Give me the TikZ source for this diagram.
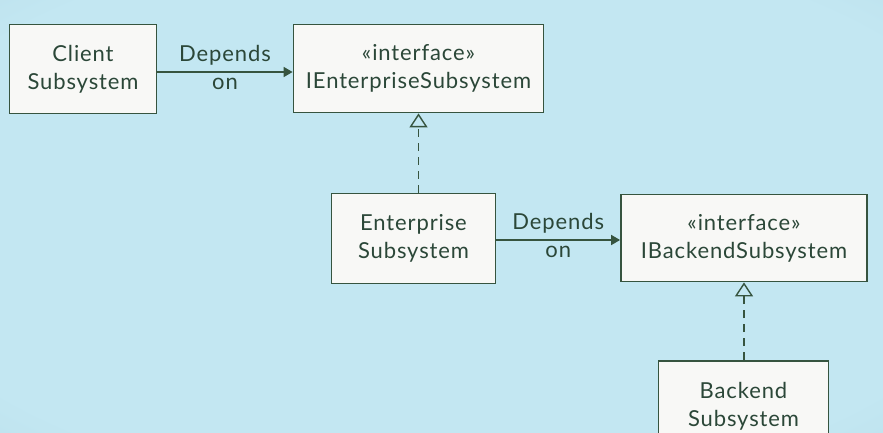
\documentclass[tikz,border=0pt]{standalone}
\usepackage{fontspec}
\setmainfont{Lato}[LetterSpace=4]
\usetikzlibrary{arrows.meta}
\definecolor{bgin}{HTML}{C3E7F2}
\definecolor{bgout}{HTML}{9EC5D2}
\definecolor{ink}{HTML}{2B4738}
\definecolor{edge}{HTML}{36543F}
\definecolor{boxfill}{HTML}{F8F8F6}
\pgfdeclareradialshading{bgshade}{\pgfpoint{0bp}{0bp}}{color(0bp)=(bgin); color(32bp)=(bgin); color(71bp)=(bgout)}
\begin{document}
\begin{tikzpicture}[x=1pt,y=-1pt,
  box/.style={draw=edge, line width=1.8pt, fill=boxfill, text=ink, align=center,
    inner sep=0pt, font=\fontsize{22}{28}\selectfont},
  lbl/.style={text=ink, font=\fontsize{22}{28}\selectfont, inner sep=0pt,
    text height=16pt, text depth=5pt},
  dep/.style={draw=edge, line width=1.7pt, -{Triangle[length=9pt,width=10pt]}},
  realize/.style={draw=edge, line width=1.5pt, dash pattern=on 8pt off 6pt,
    -{Triangle[open,length=14pt,width=18pt,line width=1.4pt]}}
]
\useasboundingbox (0,0) rectangle (883,433);
\clip (0,0) rectangle (883,433);
\shade[shading=bgshade] (0,0) rectangle (883,433);

\node[box, minimum width=147pt, minimum height=89pt] (client) at (83,69) {Client\\Subsystem};
\node[box, minimum width=250pt, minimum height=88pt] (ient) at (418.5,68.5) {«interface»\\IEnterpriseSubsystem};
\node[box, minimum width=164pt, minimum height=90pt] (ent) at (413.5,238.5) {Enterprise\\Subsystem};
\node[box, minimum width=246pt, minimum height=87pt] (iback) at (744,238) {«interface»\\IBackendSubsystem};
\node[box, minimum width=170pt, minimum height=90pt] (back) at (743.5,406) {Backend\\Subsystem};

\draw[dep] ([yshift=-3pt]client.east) -- node[lbl, above=5pt] (l1a) {Depends} node[lbl, below=1pt] (l1b) {on} ([yshift=-3.5pt]ient.west);
\draw[dep] ([yshift=-1.5pt]ent.east) -- node[lbl, above=5pt] (l2a) {Depends} node[lbl, below=1pt] (l2b) {on} ([yshift=-2pt]iback.west);

\draw[realize] (ient.south |- ent.north) -- (ient.south);
\draw[realize] (iback.south |- back.north) -- (iback.south);
\end{tikzpicture}
\end{document}
